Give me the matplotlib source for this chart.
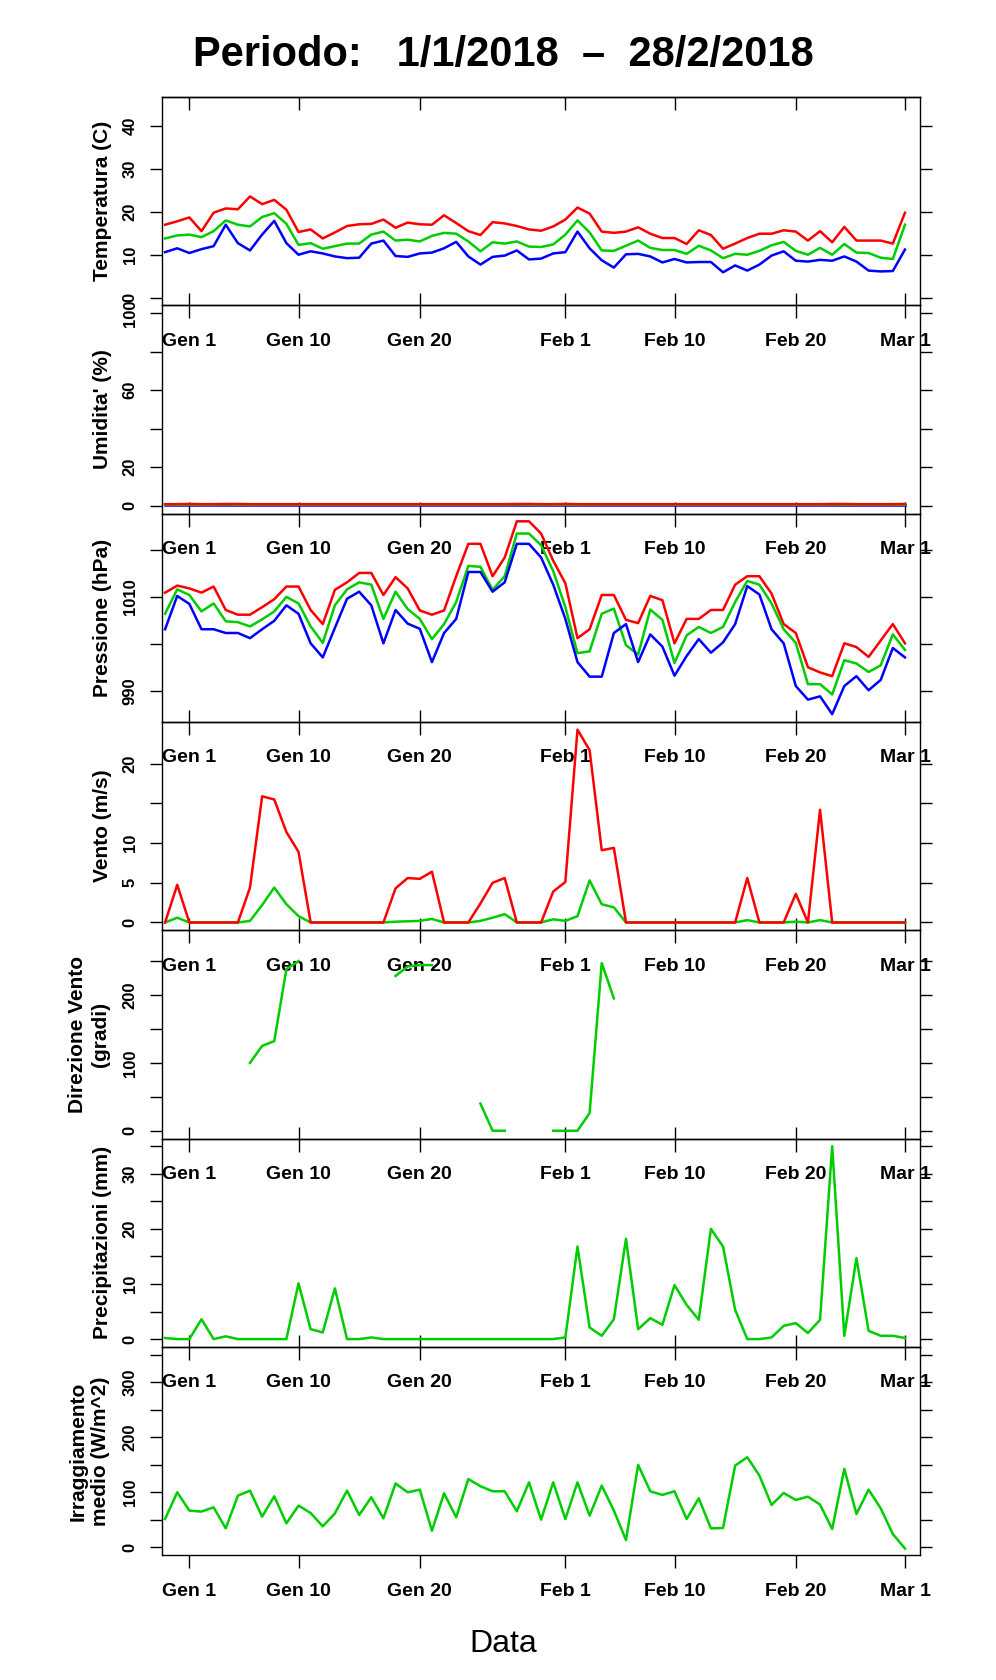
import numpy as np
import pandas as pd
import matplotlib
matplotlib.use("Agg")
import matplotlib.pyplot as plt
import matplotlib.dates as mdates

plt.rcParams["font.family"] = ["Liberation Sans", "DejaVu Sans"]
plt.rcParams["font.weight"] = "bold"

nan = np.nan

# one value per day, 30 Dec 2017 .. 1 Mar 2018
dates = pd.date_range("2017-12-30", "2018-03-01", freq="D")

temp_max = [17.0, 17.8, 18.7, 15.5, 19.8, 20.8, 20.6, 23.6, 21.8, 22.8,
            20.5, 15.3, 15.9, 13.8, 15.2, 16.7, 17.1, 17.2, 18.2, 16.3,
            17.5, 17.1, 17.0, 19.2, 17.4, 15.5, 14.6, 17.6, 17.3, 16.7,
            15.9, 15.6, 16.6, 18.2, 21.0, 19.6, 15.4, 15.1, 15.4, 16.4,
            14.9, 13.9, 13.9, 12.5, 15.7, 14.6, 11.4, 12.6, 13.9, 14.9,
            14.9, 15.7, 15.4, 13.3, 15.5, 12.9, 16.5, 13.3, 13.3, 13.3,
            12.6, 19.8]
temp_mean = [13.8, 14.5, 14.7, 14.1, 15.5, 18.0, 17.0, 16.6, 18.8, 19.7,
             17.2, 12.3, 12.7, 11.4, 12.0, 12.6, 12.6, 14.7, 15.4, 13.3,
             13.5, 13.1, 14.4, 15.1, 14.9, 13.1, 10.8, 12.9, 12.6, 13.1,
             11.9, 11.8, 12.4, 14.7, 18.0, 15.2, 11.0, 10.9, 12.1, 13.3,
             11.6, 11.1, 11.1, 10.2, 12.1, 11.0, 9.2, 10.2, 10.0, 10.9,
             12.2, 13.0, 10.9, 10.0, 11.6, 10.0, 12.5, 10.5, 10.4, 9.3,
             9.0, 17.0]
temp_min = [10.6, 11.5, 10.4, 11.3, 12.0, 17.0, 12.7, 11.0, 14.7, 17.9,
            12.7, 10.0, 10.8, 10.3, 9.6, 9.2, 9.3, 12.6, 13.3, 9.7,
            9.5, 10.3, 10.5, 11.5, 13.0, 9.6, 7.7, 9.5, 9.8, 11.0,
            8.9, 9.1, 10.3, 10.6, 15.4, 11.5, 8.7, 7.0, 10.1, 10.2,
            9.6, 8.2, 9.0, 8.2, 8.3, 8.3, 5.9, 7.5, 6.3, 7.7,
            9.8, 10.8, 8.6, 8.4, 8.8, 8.6, 9.6, 8.4, 6.3, 6.1,
            6.2, 11.2]

hum_max = [0.9, 0.9, 1.0, 0.9, 0.9, 1.0, 1.0, 0.9, 0.9, 0.9,
           0.9, 0.9, 0.9, 0.9, 0.9, 0.9, 0.9, 0.9, 0.9, 0.9,
           0.9, 0.9, 0.9, 0.9, 0.9, 0.9, 0.9, 0.9, 0.9, 1.0,
           1.0, 0.9, 0.9, 1.0, 0.9, 0.9, 0.9, 0.9, 0.9, 0.9,
           0.9, 0.9, 0.9, 0.9, 0.9, 0.9, 0.9, 0.9, 0.9, 0.9,
           0.9, 0.9, 0.9, 0.9, 0.9, 1.0, 1.0, 0.9, 0.9, 0.9,
           0.9, 1.0]
hum_mean = [0.6, 0.6, 0.6, 0.6, 0.6, 0.7, 0.6, 0.6, 0.6, 0.6,
            0.6, 0.6, 0.6, 0.6, 0.6, 0.6, 0.6, 0.6, 0.6, 0.6,
            0.6, 0.6, 0.6, 0.6, 0.6, 0.6, 0.6, 0.6, 0.6, 0.7,
            0.6, 0.6, 0.6, 0.6, 0.6, 0.6, 0.6, 0.6, 0.6, 0.6,
            0.6, 0.6, 0.6, 0.6, 0.6, 0.6, 0.6, 0.6, 0.6, 0.6,
            0.6, 0.6, 0.6, 0.6, 0.6, 0.7, 0.6, 0.6, 0.6, 0.6,
            0.6, 0.6]
hum_min = [0.3, 0.3, 0.3, 0.3, 0.3, 0.3, 0.3, 0.3, 0.3, 0.3,
           0.3, 0.3, 0.3, 0.3, 0.3, 0.3, 0.3, 0.3, 0.3, 0.3,
           0.3, 0.3, 0.3, 0.3, 0.3, 0.3, 0.3, 0.3, 0.3, 0.3,
           0.3, 0.3, 0.3, 0.3, 0.3, 0.3, 0.3, 0.3, 0.3, 0.3,
           0.3, 0.3, 0.3, 0.3, 0.3, 0.3, 0.3, 0.3, 0.3, 0.3,
           0.3, 0.3, 0.3, 0.3, 0.3, 0.3, 0.3, 0.3, 0.3, 0.3,
           0.3, 0.3]

pres_max = [1010.9, 1012.4, 1011.8, 1010.9, 1012.2, 1007.2, 1006.2, 1006.2, 1007.8, 1009.5,
            1012.2, 1012.2, 1007.2, 1004.2, 1011.5, 1013.1, 1015.1, 1015.1, 1010.4, 1014.2,
            1011.8, 1007.1, 1006.2, 1007.1, 1014.4, 1021.3, 1021.3, 1014.4, 1018.4, 1026.1,
            1026.1, 1023.5, 1017.7, 1012.9, 1001.2, 1003.1, 1010.4, 1010.4, 1005.1, 1004.4,
            1010.2, 1009.3, 1000.1, 1005.3, 1005.3, 1007.2, 1007.2, 1012.6, 1014.4, 1014.4,
            1010.7, 1004.2, 1002.3, 995.0, 993.9, 993.1, 1000.1, 999.3, 997.2, 1000.7,
            1004.2, 1000.1]
pres_mean = [1006.4, 1011.6, 1010.4, 1006.9, 1008.6, 1004.8, 1004.6, 1003.7, 1005.2, 1006.9,
             1010.0, 1008.6, 1003.7, 1000.2, 1008.2, 1011.6, 1013.1, 1012.6, 1005.3, 1011.1,
             1007.4, 1005.3, 1001.0, 1004.2, 1008.9, 1016.6, 1016.4, 1011.5, 1014.4, 1023.5,
             1023.5, 1021.0, 1015.5, 1007.8, 998.0, 998.4, 1006.4, 1007.5, 999.7, 997.7,
             1007.3, 1005.1, 995.9, 1001.8, 1003.6, 1002.3, 1003.6, 1008.9, 1013.4, 1012.6,
             1008.6, 1003.1, 1000.2, 991.4, 991.4, 989.2, 996.5, 995.8, 994.0, 995.4,
             1002.0, 998.7]
pres_min = [1003.1, 1010.2, 1008.5, 1003.1, 1003.1, 1002.3, 1002.3, 1001.2, 1003.1, 1004.9,
            1008.2, 1006.4, 1000.1, 997.1, 1003.4, 1009.6, 1011.1, 1008.2, 1000.1, 1007.2,
            1004.3, 1003.2, 996.1, 1002.3, 1005.3, 1015.3, 1015.3, 1011.1, 1013.1, 1021.3,
            1021.3, 1018.4, 1012.6, 1005.3, 996.1, 993.0, 993.0, 1002.3, 1004.2, 996.1,
            1002.0, 999.4, 993.2, 997.4, 1001.0, 998.1, 1000.3, 1004.2, 1012.3, 1010.5,
            1003.1, 1000.1, 991.0, 988.1, 988.8, 985.0, 991.0, 993.1, 990.1, 992.3,
            999.1, 997.1]

wind_max = [0, 4.75, 0, 0, 0, 0, 0, 4.4, 15.9, 15.5,
            11.4, 8.9, 0, 0, 0, 0, 0, 0, 0, 4.3,
            5.6, 5.5, 6.4, 0, 0, 0, 2.4, 5.0, 5.6, 0,
            0, 0, 3.9, 5.1, 24.3, 21.7, 9.1, 9.4, 0, 0,
            0, 0, 0, 0, 0, 0, 0, 0, 5.6, 0,
            0, 0, 3.6, 0, 14.2, 0, 0, 0, 0, 0,
            0, 0]
wind_mean = [0, 0.6, 0, 0, 0, 0, 0, 0.2, 2.2, 4.4,
             2.3, 0.8, 0, 0, 0, 0, 0, 0, 0, 0.1,
             0.15, 0.2, 0.45, 0, 0, 0, 0.2, 0.6, 1.05, 0,
             0, 0, 0.4, 0.2, 0.8, 5.3, 2.3, 1.9, 0, 0,
             0, 0, 0, 0, 0, 0, 0, 0, 0.3, 0,
             0, 0, 0.1, 0, 0.3, 0, 0, 0, 0, 0,
             0, 0]

wind_dir = [nan, nan, nan, nan, nan, nan, nan, 100, 125, 132,
            238, 250, nan, nan, nan, nan, nan, nan, nan, 228,
            242, 244, 244, nan, nan, nan, 40, 0, 0, nan,
            nan, nan, 0, 0, 0, 26, 247, 195, nan, nan,
            nan, nan, nan, nan, nan, nan, nan, nan, nan, nan,
            nan, nan, nan, nan, nan, nan, nan, nan, nan, nan,
            nan, nan]

rain = [0.2, 0, 0, 3.6, 0, 0.5, 0, 0, 0, 0,
        0, 10.1, 1.8, 1.2, 9.2, 0, 0, 0.3, 0, 0,
        0, 0, 0, 0, 0, 0, 0, 0, 0, 0,
        0, 0, 0, 0.3, 16.8, 2.1, 0.6, 3.6, 18.2, 1.8,
        3.8, 2.6, 9.8, 6.2, 3.5, 20.0, 16.8, 5.3, 0, 0,
        0.3, 2.4, 2.9, 1.1, 3.5, 35.0, 0.6, 14.7, 1.5, 0.6,
        0.6, 0.2]

irr = [51.5, 100, 66.7, 65, 72.7, 34.5, 93.9, 103, 55.8, 92.7,
       43.6, 75.8, 62.4, 38.2, 61.8, 103, 58.8, 90.9, 52.7, 116,
       100, 104.8, 30.3, 98.2, 54.5, 124, 111, 101.8, 101.8, 65.5,
       118, 50.3, 118, 51.5, 118, 57.6, 112, 66.7, 13.3, 149.7,
       101.8, 95.2, 101.8, 51.5, 89.1, 34.5, 35.2, 148.5, 163.6, 130.3,
       77, 98.8, 86.1, 92.1, 77.6, 33.3, 142.4, 60.6, 104.8, 70.9,
       24.2, -2]

tick_dates = ["2018-01-01", "2018-01-10", "2018-01-20", "2018-02-01",
              "2018-02-10", "2018-02-20", "2018-03-01"]
tick_labels = ["Gen 1", "Gen 10", "Gen 20", "Feb 1", "Feb 10", "Feb 20", "Mar 1"]

RED, GREEN, BLUE = "#ff0000", "#00cd00", "#0000ff"

panels = [
    dict(label="Temperatura (C)", lines=[(temp_max, RED), (temp_mean, GREEN), (temp_min, BLUE)],
         ylim=(-1.8, 46.8), yticks=[0, 10, 20, 30, 40], ylabels=["0", "10", "20", "30", "40"]),
    dict(label="Umidita' (%)", lines=[(hum_min, BLUE), (hum_mean, GREEN), (hum_max, RED)],
         ylim=(-4, 104), yticks=[0, 20, 40, 60, 80, 100], ylabels=["0", "20", "", "60", "", "100"]),
    dict(label="Pressione (hPa)", lines=[(pres_max, RED), (pres_mean, GREEN), (pres_min, BLUE)],
         ylim=None, yticks=[990, 1000, 1010, 1020], ylabels=["990", "", "1010", ""]),
    dict(label="Vento (m/s)", lines=[(wind_mean, GREEN), (wind_max, RED)],
         ylim=None, yticks=[0, 5, 10, 15, 20], ylabels=["0", "5", "10", "", "20"]),
    dict(label="Direzione Vento\n(gradi)", lines=[(wind_dir, GREEN)],
         ylim=(-11.4, 295.4), yticks=[0, 50, 100, 150, 200, 250],
         ylabels=["0", "", "100", "", "200", ""]),
    dict(label="Precipitazioni (mm)", lines=[(rain, GREEN)],
         ylim=None, yticks=[0, 5, 10, 15, 20, 25, 30, 35],
         ylabels=["0", "", "10", "", "20", "", "30", ""]),
    dict(label="Irraggiamento\nmedio (W/m^2)", lines=[(irr, GREEN)],
         ylim=(-14, 364), yticks=[0, 50, 100, 150, 200, 250, 300, 350],
         ylabels=["0", "", "100", "", "200", "", "300", ""]),
]

W, H = 996, 1680
LEFT, RIGHT = 161.7, 920.0
TOP0, PANEL_H = 97.0, 208.3
PX = 0.72  # points per pixel at dpi 100

fig = plt.figure(figsize=(W / 100, H / 100), dpi=100)

day0 = mdates.date2num(pd.Timestamp("2018-01-01"))
xlim = (day0 - 2.28, day0 + 60.24)
xt = [mdates.date2num(pd.Timestamp(d)) for d in tick_dates]

n = len(panels)
for i, p in enumerate(panels):
    top = TOP0 + i * PANEL_H
    ax = fig.add_axes([LEFT / W, 1 - (top + PANEL_H) / H, (RIGHT - LEFT) / W, PANEL_H / H])
    ax.patch.set_visible(False)
    for y, c in p["lines"]:
        ax.plot(dates, y, color=c, lw=1.8, solid_joinstyle="round")
    ax.set_xlim(xlim)
    if p["ylim"] is None:
        ax.margins(y=0.04)
    else:
        ax.set_ylim(p["ylim"])

    last = i == n - 1
    ax.set_xticks(xt, tick_labels)
    ax.tick_params(axis="x", bottom=True, top=False,
                   direction="out" if last else "inout",
                   length=(12.5 if last else 25) * PX, width=1.0,
                   labelsize=14, pad=15 * PX)
    if i == 0:
        sec = ax.secondary_xaxis("top")
        sec.set_xticks(xt, [""] * len(xt))
        sec.tick_params(axis="x", direction="in", length=12.5 * PX, width=1.0)
        sec.spines["top"].set_linewidth(1.0)

    ax.set_yticks(p["yticks"], p["ylabels"])
    ax.tick_params(axis="y", left=True, right=True, direction="out",
                   length=12 * PX, width=1.0, labelsize=12, pad=12 * PX,
                   labelrotation=90)
    for lab in ax.get_yticklabels():
        lab.set_va("center")

    for s in ax.spines.values():
        s.set_linewidth(1.0)

    ylab_x = 89 if "\n" in p["label"] else 103
    fig.text(ylab_x / W, 1 - (top + PANEL_H / 2) / H, p["label"], rotation=90,
             ha="center", va="center", fontsize=15, fontweight="bold",
             linespacing=1.25, multialignment="center")

fig.text(503 / W, 1 - 66 / H, "Periodo:   1/1/2018  \u2013  28/2/2018",
         ha="center", va="baseline", fontsize=30, fontweight="bold")
fig.text(503 / W, 1 - 1652 / H, "Data", ha="center", va="baseline",
         fontsize=23, fontweight="normal")

fig.savefig("out.png", dpi=100)
